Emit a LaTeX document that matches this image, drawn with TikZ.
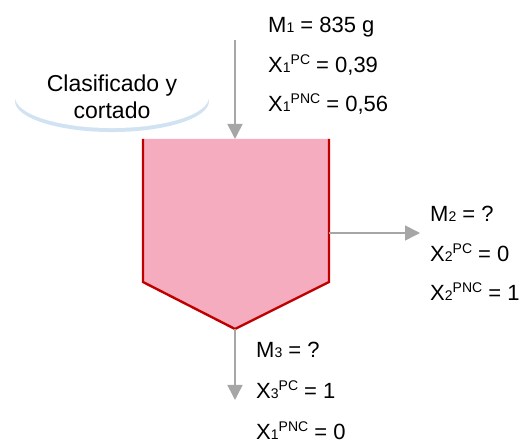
\documentclass[tikz,border=0pt]{standalone}
\usepackage{fontspec}
\setmainfont{Liberation Sans}
\usetikzlibrary{shapes.geometric, arrows.meta, positioning, shadows}
\definecolor{procpink}{RGB}{244,172,190}
\definecolor{procred}{RGB}{192,0,0}
\definecolor{flowgray}{RGB}{166,166,166}
\definecolor{glowblue}{RGB}{198,220,240}
\newcommand{\sbs}[1]{{\fontsize{14}{14}\selectfont #1}}
\newcommand{\sps}[1]{\raisebox{8pt}{\fontsize{14}{14}\selectfont #1}}
\tikzset{
  flow/.style={-{Triangle[length=15pt,width=15pt]}, line width=1.6pt, color=flowgray},
  streamtxt/.style={anchor=base west, inner sep=0pt, font=\fontsize{22}{25}\selectfont},
  taskoval/.style={ellipse, fill=white, minimum width=194pt, minimum height=60pt,
    inner sep=0pt, align=center, font=\fontsize{23}{27}\selectfont,
    drop shadow={fill=glowblue, shadow xshift=0pt, shadow yshift=-4pt, opacity=0.8}},
}

\begin{document}
\begin{tikzpicture}[x=1pt, y=-1pt]
  \useasboundingbox (0,0) rectangle (522,443);
  % separator unit
  \coordinate (ptop) at (235,139);
  \coordinate (pright) at (329,233);
  \coordinate (ptip) at (235,329);
  \fill[procpink] (143,139) -- (143,282) -- (ptip) -- (329,282) -- (329,139) -- cycle;
  \draw[procred, line width=2.4pt] (143,139) -- (143,282) -- (ptip) -- (329,282) -- (329,139);
  \node[taskoval] (task) at (112,97) {Clasificado y\\cortado};
  % streams
  \coordinate (feed) at (235,40);
  \coordinate (side) at (420,233);
  \coordinate (under) at (235,400);
  \draw[flow] (feed) -- (ptop);
  \draw[flow] (pright) -- (side);
  \draw[flow] (ptip) -- (under);
  % stream 1
  \node[streamtxt] (m1) at (268,33) {M\sbs{1} = 835 g};
  \node[streamtxt] (x1pc) at (268,73) {X\sbs{1}\sps{PC} = 0,39};
  \node[streamtxt] (x1pnc) at (268,112) {X\sbs{1}\sps{PNC} = 0,56};
  % stream 2
  \node[streamtxt] (m2) at (430,222) {M\sbs{2} = ?};
  \node[streamtxt] (x2pc) at (430,262) {X\sbs{2}\sps{PC} = 0};
  \node[streamtxt] (x2pnc) at (430,301) {X\sbs{2}\sps{PNC} = 1};
  % stream 3
  \node[streamtxt] (m3) at (256,358) {M\sbs{3} = ?};
  \node[streamtxt] (x3pc) at (256,399) {X\sbs{3}\sps{PC} = 1};
  \node[streamtxt] (x3pnc) at (256,439) {X\sbs{1}\sps{PNC} = 0};
\end{tikzpicture}
\end{document}
